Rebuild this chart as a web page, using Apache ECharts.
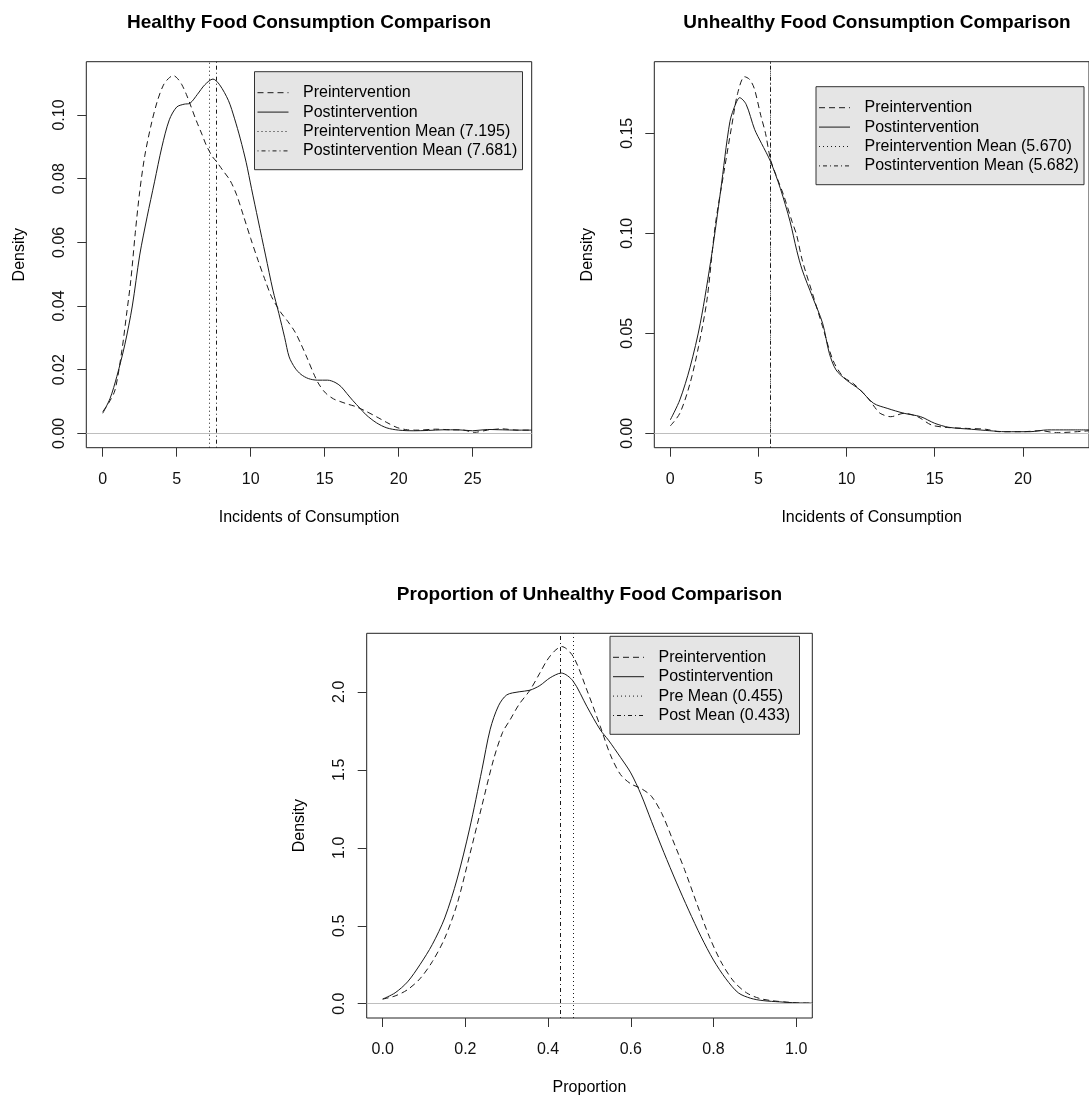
<!DOCTYPE html>
<html>
<head>
<meta charset="utf-8">
<title>Food Consumption Density Comparison</title>
<script src="https://cdn.jsdelivr.net/npm/echarts@6/dist/echarts.min.js"></script>
<style>
  html, body { margin: 0; padding: 0; background: #fff; }
  #chart { width: 1089px; height: 1097px; }
</style>
</head>
<body>
<div id="chart"></div>
<script>
// density estimates: [x, density]
const healthyPre = [[0,0.0068],[0.4,0.0095],[0.83,0.0136],[1.3,0.0262],[1.6,0.037],[1.9,0.0482],[2.2,0.063],[2.5,0.076],[2.85,0.0874],[3.3,0.0975],[3.7,0.1045],[4.1,0.1094],[4.45,0.1115],[4.77,0.1124],[5.05,0.1115],[5.35,0.1095],[5.65,0.1065],[5.9,0.1035],[6.3,0.0985],[6.7,0.094],[7.0,0.0905],[7.4,0.087],[7.7,0.0853],[8.1,0.0827],[8.6,0.0795],[9.05,0.0749],[9.5,0.0685],[10.0,0.0612],[10.5,0.0543],[11.0,0.0478],[11.4,0.043],[12.0,0.0382],[12.5,0.0352],[13.0,0.0318],[13.4,0.028],[13.8,0.0238],[14.25,0.0188],[14.6,0.0155],[15.05,0.0127],[15.6,0.0108],[16.1,0.0099],[16.6,0.0091],[17.1,0.0084],[17.8,0.0069],[18.5,0.0052],[19.2,0.0034],[19.9,0.0018],[20.6,0.0011],[21.3,0.001],[22.5,0.0013],[23.5,0.0011],[24.4,0.001],[25.1,0.0003],[26.0,0.001],[27.0,0.0014],[28.0,0.001],[29.0,0.001]];
const healthyPost = [[0,0.0063],[0.5,0.011],[0.95,0.0178],[1.5,0.028],[2.0,0.04],[2.5,0.056],[3.0,0.068],[3.5,0.079],[4.0,0.09],[4.5,0.0985],[5.0,0.1025],[5.5,0.1034],[5.9,0.1037],[6.4,0.1065],[6.9,0.1095],[7.45,0.1113],[7.9,0.1095],[8.5,0.1045],[8.9,0.099],[9.3,0.0925],[9.7,0.085],[10.05,0.077],[10.5,0.067],[11.0,0.056],[11.5,0.045],[11.9,0.0377],[12.3,0.03],[12.6,0.024],[13.0,0.0205],[13.4,0.0185],[13.9,0.0172],[14.5,0.0167],[15.2,0.0167],[15.7,0.016],[16.1,0.0147],[16.5,0.0125],[16.9,0.0103],[17.4,0.0078],[17.8,0.0058],[18.5,0.0033],[19.2,0.0017],[20.0,0.001],[21.0,0.0008],[22.0,0.0009],[23.0,0.0011],[24.0,0.0011],[25.0,0.0008],[26.0,0.0012],[27.0,0.0011],[28.0,0.001],[29.0,0.001]];
const healthyMeans = [7.195, 7.681];

const unhealthyPre = [[0,0.0037],[0.54,0.01],[1.12,0.025],[1.6,0.0433],[2.08,0.0667],[2.55,0.104],[3.05,0.131],[3.47,0.153],[3.82,0.17],[4.21,0.1783],[4.49,0.177],[4.76,0.1725],[5.13,0.159],[5.4,0.15],[5.68,0.137],[6.0,0.129],[6.43,0.119],[6.9,0.106],[7.17,0.099],[7.48,0.0867],[8.06,0.07],[8.64,0.0533],[9.22,0.0367],[9.8,0.0283],[10.37,0.025],[11.14,0.0183],[11.6,0.013],[11.9,0.01],[12.5,0.0083],[13.26,0.01],[14.03,0.0083],[14.8,0.0042],[15.58,0.003],[16.7,0.0025],[17.9,0.002],[18.66,0.0008],[20.0,0.0008],[21.0,0.0013],[21.9,0.0003],[23.8,0.0013]];
const unhealthyPost = [[0,0.0067],[0.54,0.0167],[1.12,0.033],[1.7,0.055],[2.36,0.09],[2.85,0.121],[3.38,0.1558],[3.72,0.165],[3.93,0.1678],[4.3,0.1645],[4.78,0.152],[5.17,0.145],[5.68,0.136],[6.24,0.1225],[6.79,0.106],[7.17,0.0915],[7.48,0.0817],[8.06,0.0683],[8.64,0.055],[9.02,0.04],[9.4,0.0317],[9.98,0.0267],[10.76,0.0217],[11.53,0.015],[12.3,0.0125],[13.26,0.01],[14.2,0.0083],[15.0,0.005],[15.8,0.003],[17.1,0.002],[18.1,0.0013],[19.0,0.0008],[20.4,0.0008],[21.4,0.0017],[22.3,0.0017],[23.8,0.0017]];
const unhealthyMeans = [5.670, 5.682];

const propPre = [[0,0.03],[0.03,0.05],[0.06,0.09],[0.09,0.16],[0.12,0.27],[0.15,0.42],[0.18,0.64],[0.21,0.95],[0.24,1.27],[0.268,1.565],[0.29,1.74],[0.308,1.82],[0.33,1.92],[0.356,2.01],[0.38,2.12],[0.397,2.2],[0.415,2.26],[0.433,2.29],[0.461,2.225],[0.494,2.01],[0.526,1.78],[0.55,1.6],[0.575,1.47],[0.6,1.41],[0.625,1.38],[0.65,1.33],[0.675,1.22],[0.7,1.06],[0.73,0.86],[0.76,0.64],[0.79,0.43],[0.82,0.26],[0.85,0.14],[0.88,0.07],[0.91,0.035],[0.94,0.02],[0.97,0.012],[1.0,0.006],[1.04,0.004]];
const propPost = [[0,0.03],[0.03,0.07],[0.06,0.14],[0.09,0.25],[0.12,0.38],[0.15,0.55],[0.18,0.8],[0.21,1.12],[0.24,1.5],[0.26,1.76],[0.28,1.91],[0.3,1.98],[0.33,2.0],[0.356,2.01],[0.38,2.04],[0.405,2.09],[0.432,2.12],[0.46,2.07],[0.494,1.905],[0.526,1.757],[0.546,1.69],[0.575,1.58],[0.6,1.48],[0.625,1.34],[0.65,1.17],[0.68,0.97],[0.71,0.78],[0.74,0.6],[0.77,0.43],[0.8,0.28],[0.83,0.16],[0.86,0.07],[0.89,0.035],[0.92,0.02],[0.96,0.012],[1.0,0.006],[1.04,0.004]];
const propMeans = [0.455, 0.433];

// tick labels
const healthyXTicks = [0, 5, 10, 15, 20, 25];
const healthyYTicks = [0, 0.02, 0.04, 0.06, 0.08, 0.10];
const unhealthyXTicks = [0, 5, 10, 15, 20];
const unhealthyYTicks = [0, 0.05, 0.10, 0.15];
const propXTicks = [0, 0.2, 0.4, 0.6, 0.8, 1.0];
const propYTicks = [0, 0.5, 1.0, 1.5, 2.0];

const FONT = '"Liberation Sans", Arial, sans-serif';
const INK = '#1a1a1a';
const DASHED = [6, 4];
const DOTTED = [1, 3];
const DOTDASH = [1, 3, 4, 3];

// layout of the three plot boxes (px) and axis extents
const panels = [
  {
    title: 'Healthy Food Consumption Comparison', xName: 'Incidents of Consumption',
    box: [86.3, 61.7, 445.4, 386], xRange: [-1.11, 28.99], yRange: [-0.00452, 0.11675],
    xTicks: healthyXTicks, yTicks: healthyYTicks, xDigits: 0, yDigits: 2,
    pre: healthyPre, post: healthyPost, means: healthyMeans,
    legend: [254.5, 71.7, 268],
    labels: ['Preintervention', 'Postintervention', 'Preintervention Mean (7.195)', 'Postintervention Mean (7.681)']
  },
  {
    title: 'Unhealthy Food Consumption Comparison', xName: 'Incidents of Consumption',
    box: [654.3, 61.7, 445.4, 386], xRange: [-0.908, 23.75], yRange: [-0.0072, 0.1858],
    xTicks: unhealthyXTicks, yTicks: unhealthyYTicks, xDigits: 0, yDigits: 2,
    pre: unhealthyPre, post: unhealthyPost, means: unhealthyMeans,
    legend: [816, 86.7, 268],
    labels: ['Preintervention', 'Postintervention', 'Preintervention Mean (5.670)', 'Postintervention Mean (5.682)']
  },
  {
    title: 'Proportion of Unhealthy Food Comparison', xName: 'Proportion',
    box: [366.7, 633.3, 445.6, 386], xRange: [-0.0387, 1.039], yRange: [-0.0914, 2.375],
    xTicks: propXTicks, yTicks: propYTicks, xDigits: 1, yDigits: 1,
    pre: propPre, post: propPost, means: propMeans,
    legend: [610, 636.3, 189.5],
    labels: ['Preintervention', 'Postintervention', 'Pre Mean (0.455)', 'Post Mean (0.433)']
  }
];

function axis(i, range, ticks, digits, name, isY) {
  return {
    type: 'value', gridIndex: i, min: range[0], max: range[1],
    name: name, nameLocation: 'middle', nameGap: isY ? 59 : 62, nameMoveOverlap: false,
    nameTextStyle: { fontSize: 16, color: '#000', fontFamily: FONT },
    axisLine: { show: false, onZero: false },
    splitLine: { show: false },
    axisTick: { show: true, length: 9, customValues: ticks, lineStyle: { color: '#333', width: 1 } },
    axisLabel: {
      customValues: ticks, margin: isY ? 19 : 24, rotate: isY ? 90 : 0,
      fontSize: 16, color: '#111', fontFamily: FONT,
      formatter: v => v.toFixed(digits)
    }
  };
}

function legendGroup(p) {
  const [x, y, w] = p.legend;
  const dashes = [DASHED, null, DOTTED, DOTDASH];
  const children = [{
    type: 'rect', shape: { x: 0, y: 0, width: w, height: 98 },
    style: { fill: '#e5e5e5', stroke: '#333', lineWidth: 1 }
  }];
  p.labels.forEach((t, k) => {
    const cy = 21 + k * 19.4;
    children.push({
      type: 'line', shape: { x1: 3, y1: cy, x2: 34, y2: cy },
      style: { stroke: INK, lineWidth: 1, lineDash: dashes[k] }
    });
    children.push({
      type: 'text', x: 48.5, y: cy,
      style: { text: t, fill: '#000', fontSize: 16, fontFamily: FONT, align: 'left', verticalAlign: 'middle' }
    });
  });
  return { type: 'group', x: x, y: y, silent: true, children: children };
}

const grid = [], xAxis = [], yAxis = [], series = [], graphic = [];

panels.forEach((p, i) => {
  grid.push({
    show: true, left: p.box[0], top: p.box[1], width: p.box[2], height: p.box[3],
    borderColor: '#222', borderWidth: 1, backgroundColor: 'transparent'
  });
  xAxis.push(axis(i, p.xRange, p.xTicks, p.xDigits, p.xName, false));
  yAxis.push(axis(i, p.yRange, p.yTicks, p.yDigits, 'Density', true));

  series.push({
    type: 'line', name: 'Preintervention', data: p.pre, xAxisIndex: i, yAxisIndex: i,
    showSymbol: false, symbol: 'none', smooth: 0.3,
    lineStyle: { color: INK, width: 1, type: DASHED },
    markLine: {
      silent: true, symbol: 'none', label: { show: false }, emphasis: { disabled: true },
      data: [{ yAxis: 0, lineStyle: { color: '#bebebe', width: 1, type: 'solid' } }]
    }
  });
  series.push({
    type: 'line', name: 'Postintervention', data: p.post, xAxisIndex: i, yAxisIndex: i,
    showSymbol: false, symbol: 'none', smooth: 0.3,
    lineStyle: { color: INK, width: 1, type: 'solid' },
    markLine: {
      silent: true, symbol: 'none', label: { show: false }, emphasis: { disabled: true },
      data: [
        { xAxis: p.means[0], lineStyle: { color: INK, width: 1, type: DOTTED } },
        { xAxis: p.means[1], lineStyle: { color: INK, width: 1, type: DOTDASH } }
      ]
    }
  });

  graphic.push({
    type: 'text', x: p.box[0] + p.box[2] / 2, y: p.box[1] - 38.5, silent: true,
    style: { text: p.title, fill: '#000', fontSize: 19, fontWeight: 'bold', fontFamily: FONT, align: 'center', verticalAlign: 'middle' }
  });
  graphic.push(legendGroup(p));
});

const chart = echarts.init(document.getElementById('chart'), null, { renderer: 'canvas' });
chart.setOption({
  animation: false,
  backgroundColor: '#fff',
  textStyle: { fontFamily: FONT },
  grid: grid,
  xAxis: xAxis,
  yAxis: yAxis,
  series: series,
  graphic: graphic
});
</script>
</body>
</html>
